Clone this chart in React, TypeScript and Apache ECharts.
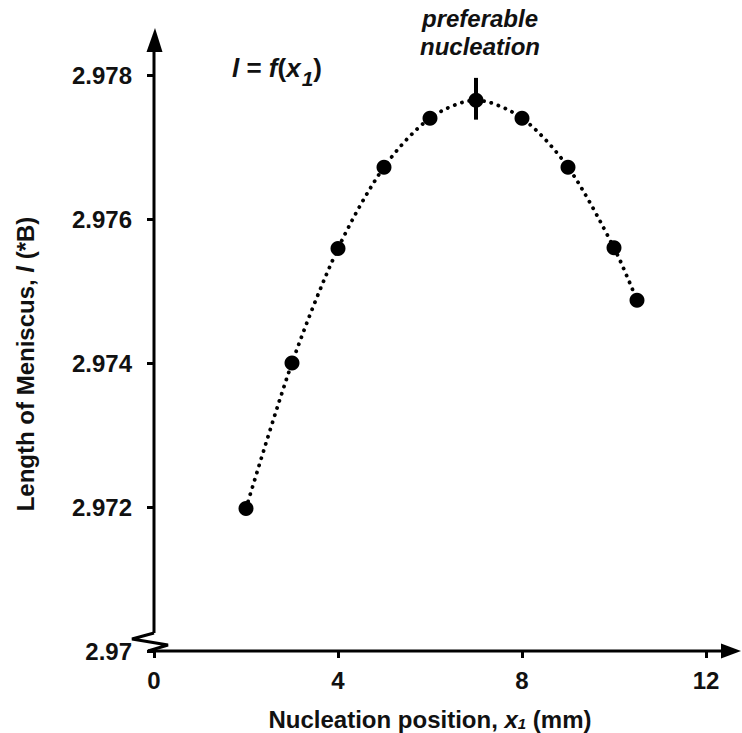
import React, { useEffect, useRef } from "react";
import * as echarts from "echarts";

// Nucleation position x1 (mm) and the resulting meniscus length l (*B)
const positions = [2, 3, 4, 5, 6, 7, 8, 9, 10, 10.5];
const lengths = [2.97198, 2.974, 2.97559, 2.97672, 2.9774, 2.97765, 2.9774, 2.97672, 2.9756, 2.97487];

// Axis ranges / tick steps
const xTicks = [0, 4, 8, 12];
const yTicks = [2.97, 2.972, 2.974, 2.976, 2.978];

// Preferable nucleation marker (x, upper and lower end of the bar)
const preferredX = 7;
const preferredBar = [2.97796, 2.97738];

const FONT = "'Liberation Sans', Arial, Helvetica, sans-serif";
const INK = "#000";
const TEXT = "#111";

export default function App() {
  const ref = useRef<HTMLDivElement>(null);

  useEffect(() => {
    if (!ref.current) return;
    const chart = echarts.init(ref.current, undefined, { renderer: "svg" });

    const labelStyle = { fontFamily: FONT, fontWeight: "bold" as const, fontSize: 24, color: TEXT };

    chart.setOption({
      animation: false,
      backgroundColor: "#fff",
      grid: { left: 154, right: 36, top: 75, bottom: 82, containLabel: false, outerBoundsMode: "none" },
      xAxis: {
        type: "value",
        min: xTicks[0],
        max: xTicks[xTicks.length - 1],
        interval: xTicks[1] - xTicks[0],
        splitLine: { show: false },
        axisLine: { show: false },
        axisTick: { show: true, inside: false, length: 7, lineStyle: { color: INK, width: 3 } },
        axisLabel: { ...labelStyle, margin: 17 },
      },
      yAxis: {
        type: "value",
        min: yTicks[0],
        max: yTicks[yTicks.length - 1],
        interval: +(yTicks[1] - yTicks[0]).toFixed(3),
        splitLine: { show: false },
        axisLine: { show: false },
        axisTick: { show: true, inside: false, length: 7, lineStyle: { color: INK, width: 3 } },
        axisLabel: {
          ...labelStyle,
          margin: 22,
          formatter: (v: number) => {
            const s = v.toFixed(3);
            return s === "2.970" ? "2.97" : s;
          },
        },
      },
      series: [
        {
          type: "line",
          data: positions.map((x, i) => [x, lengths[i]]),
          smooth: 0.3,
          symbol: "circle",
          symbolSize: 15,
          itemStyle: { color: INK },
          lineStyle: { color: INK, width: 3.8, type: [0.1, 7.4], cap: "round" },
          z: 3,
          markLine: {
            silent: true,
            symbol: ["none", "none"],
            label: { show: false },
            lineStyle: { color: INK, width: 4, type: "solid" },
            data: [[{ coord: [preferredX, preferredBar[0]] }, { coord: [preferredX, preferredBar[1]] }]],
          },
        },
      ],
    });

    // Hand-drawn axes: arrows and the broken-axis zigzag at the origin
    const origin = chart.convertToPixel({ gridIndex: 0 }, [xTicks[0], yTicks[0]]) as number[];
    const [ox, oy] = origin;
    const W = chart.getWidth();
    const lineStyle = { stroke: INK, lineWidth: 3, fill: "none" };

    const rich = {
      b: { fontFamily: FONT, fontWeight: "bold", fontSize: 24, fill: TEXT, lineHeight: 24 },
      i: { fontFamily: FONT, fontWeight: "bold", fontStyle: "italic", fontSize: 24, fill: TEXT, lineHeight: 24 },
      s: { fontFamily: FONT, fontWeight: "bold", fontStyle: "italic", fontSize: 15, fill: TEXT, lineHeight: 12, verticalAlign: "bottom" },
    };
    const richBig = {
      b: { fontFamily: FONT, fontWeight: "bold", fontSize: 26, fill: TEXT, lineHeight: 26, verticalAlign: "top" },
      i: { fontFamily: FONT, fontWeight: "bold", fontStyle: "italic", fontSize: 26, fill: TEXT, lineHeight: 26, verticalAlign: "top" },
      s: { fontFamily: FONT, fontWeight: "bold", fontStyle: "italic", fontSize: 21, fill: TEXT, lineHeight: 21, verticalAlign: "top", padding: [13, 0, 0, 1] },
    };
    const noteStyle = {
      fontFamily: FONT,
      fontWeight: "bold",
      fontStyle: "italic",
      fontSize: 24,
      fill: TEXT,
      align: "center",
      verticalAlign: "middle",
    };

    chart.setOption({
      graphic: [
        { type: "line", shape: { x1: ox, y1: 50, x2: ox, y2: oy - 18 }, style: lineStyle },
        {
          type: "polyline",
          shape: { points: [[ox, oy - 18], [ox - 22, oy - 12], [ox + 14, oy - 6], [ox - 6, oy]] },
          style: lineStyle,
        },
        { type: "polygon", shape: { points: [[ox + 1, 28], [ox - 7.5, 52], [ox + 8.5, 52]] }, style: { fill: INK } },
        { type: "line", shape: { x1: ox - 6, y1: oy, x2: W - 20, y2: oy }, style: lineStyle },
        { type: "polygon", shape: { points: [[W - 21, oy - 7.5], [W - 1, oy], [W - 21, oy + 7.5]] }, style: { fill: INK } },
        {
          type: "text",
          x: 430,
          y: 719,
          style: {
            text: "{b|Nucleation position, }{i|x}{s|1}{b| (mm)}",
            rich,
            align: "center",
            verticalAlign: "middle",
          },
        },
        {
          type: "text",
          x: 25,
          y: 364,
          rotation: Math.PI / 2,
          style: {
            text: "{b|Length of Meniscus, }{i|l}{b| (*B)}",
            rich,
            align: "center",
            verticalAlign: "middle",
          },
        },
        {
          type: "text",
          x: 232,
          y: 55,
          style: {
            text: "{i|l}{b| = }{i|f}{b|(}{i|x}{s|1}{b|)}",
            rich: richBig,
            align: "left",
            verticalAlign: "top",
          },
        },
        { type: "text", x: 480, y: 18, style: { text: "preferable", ...noteStyle } },
        { type: "text", x: 480, y: 46, style: { text: "nucleation", ...noteStyle } },
      ],
    });

    return () => chart.dispose();
  }, []);

  return <div ref={ref} style={{ width: 742, height: 733, position: "absolute", left: 0, top: 0 }} />;
}
